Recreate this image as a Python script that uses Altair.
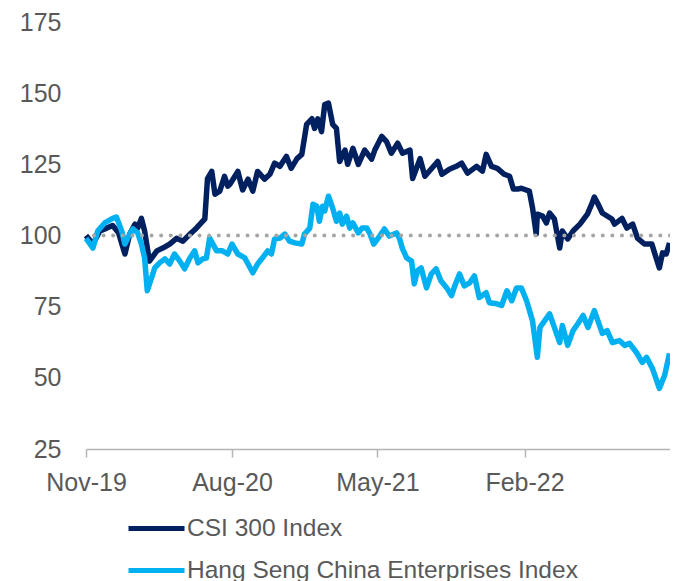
import altair as alt
import pandas as pd

csi_dates = [
    "2019-11-01", "2019-11-14", "2019-11-27", "2019-12-10", "2019-12-21", "2020-01-01",
    "2020-01-13", "2020-01-22", "2020-02-01", "2020-02-06", "2020-02-13", "2020-02-19",
    "2020-02-28", "2020-03-13", "2020-03-24", "2020-04-06", "2020-04-19", "2020-05-01",
    "2020-05-14", "2020-05-23", "2020-06-02", "2020-06-11", "2020-06-16", "2020-06-24",
    "2020-06-30", "2020-07-09", "2020-07-18", "2020-07-24", "2020-07-28", "2020-08-12",
    "2020-08-21", "2020-08-31", "2020-09-09", "2020-09-18", "2020-10-01", "2020-10-11",
    "2020-10-20", "2020-10-30", "2020-11-11", "2020-11-20", "2020-12-01", "2020-12-10",
    "2020-12-19", "2020-12-29", "2021-01-03", "2021-01-09", "2021-01-16", "2021-01-22",
    "2021-01-29", "2021-02-06", "2021-02-13", "2021-02-19", "2021-03-01", "2021-03-06",
    "2021-03-16", "2021-03-26", "2021-04-07", "2021-04-20", "2021-04-26", "2021-05-09",
    "2021-05-18", "2021-05-27", "2021-06-08", "2021-06-17", "2021-07-01", "2021-07-06",
    "2021-07-20", "2021-07-29", "2021-08-11", "2021-08-22", "2021-08-30", "2021-09-13",
    "2021-09-26", "2021-10-06", "2021-10-17", "2021-11-03", "2021-11-14", "2021-11-21",
    "2021-12-01", "2021-12-12", "2021-12-25", "2022-01-04", "2022-01-11", "2022-01-19",
    "2022-01-26", "2022-02-10", "2022-02-16", "2022-02-23", "2022-02-25", "2022-03-07",
    "2022-03-14", "2022-03-20", "2022-03-29", "2022-04-08", "2022-04-13", "2022-04-23",
    "2022-05-03", "2022-05-16", "2022-05-30", "2022-06-07", "2022-06-12", "2022-06-18",
    "2022-06-27", "2022-07-15", "2022-07-20", "2022-08-03", "2022-08-12", "2022-08-23",
    "2022-09-01", "2022-09-14", "2022-09-28", "2022-10-03", "2022-10-12", "2022-10-18",
    "2022-10-25", "2022-10-31",
]
csi_values = [
    100.0, 97.0, 101.6, 102.6, 103.5, 101.0,
    93.5, 100.5, 104.0, 102.6, 106.0, 101.6,
    91.0, 94.6, 95.6, 97.0, 99.0, 98.0,
    100.5, 102.0, 104.0, 105.8, 120.0, 122.5,
    114.5, 115.6, 120.8, 117.3, 118.0, 122.5,
    116.0, 119.8, 115.6, 122.5, 119.8, 121.5,
    125.4, 124.3, 127.8, 123.6, 127.0, 128.5,
    139.0, 141.0, 137.6, 141.0, 136.5, 146.0,
    146.5, 139.0, 137.6, 126.0, 130.0, 125.0,
    130.6, 125.0, 130.0, 126.8, 130.0, 134.8,
    133.0, 128.9, 132.4, 128.9, 130.0, 120.0,
    127.0, 120.8, 123.6, 126.0, 121.5, 123.3,
    124.3, 125.4, 121.9, 124.3, 122.6, 128.5,
    124.3, 123.6, 121.5, 120.8, 116.3, 116.3,
    116.6, 115.6, 109.7, 100.5, 107.5, 106.8,
    104.4, 107.9, 105.8, 95.6, 101.6, 98.8,
    101.6, 104.0, 107.5, 111.0, 113.5, 111.4,
    107.9, 105.8, 104.0, 106.0, 102.6, 104.0,
    99.1, 97.0, 97.0, 93.9, 88.6, 93.9,
    93.5, 97.4,
]

hs_dates = [
    "2019-11-01", "2019-11-14", "2019-11-23", "2019-12-06", "2019-12-21", "2019-12-28",
    "2020-01-07", "2020-01-13", "2020-01-22", "2020-01-28", "2020-02-06", "2020-02-13",
    "2020-02-19", "2020-02-24", "2020-03-03", "2020-03-09", "2020-03-18", "2020-03-28",
    "2020-04-06", "2020-04-15", "2020-04-25", "2020-05-04", "2020-05-14", "2020-05-23",
    "2020-05-29", "2020-06-07", "2020-06-14", "2020-06-20", "2020-06-25", "2020-07-03",
    "2020-07-14", "2020-07-24", "2020-08-01", "2020-08-12", "2020-08-25", "2020-09-09",
    "2020-09-18", "2020-09-27", "2020-10-07", "2020-10-14", "2020-10-20", "2020-10-30",
    "2020-11-08", "2020-11-17", "2020-11-27", "2020-12-10", "2020-12-15", "2020-12-25",
    "2020-12-31", "2021-01-07", "2021-01-12", "2021-01-18", "2021-01-22", "2021-01-29",
    "2021-02-06", "2021-02-13", "2021-02-19", "2021-02-24", "2021-03-04", "2021-03-10",
    "2021-03-16", "2021-03-26", "2021-04-02", "2021-04-11", "2021-04-17", "2021-04-24",
    "2021-05-05", "2021-05-14", "2021-05-23", "2021-06-06", "2021-06-11", "2021-06-17",
    "2021-06-25", "2021-07-04", "2021-07-09", "2021-07-15", "2021-07-22", "2021-08-01",
    "2021-08-10", "2021-08-19", "2021-08-28", "2021-09-08", "2021-09-17", "2021-09-23",
    "2021-10-02", "2021-10-11", "2021-10-21", "2021-10-30", "2021-11-08", "2021-11-21",
    "2021-11-27", "2021-12-11", "2021-12-20", "2021-12-30", "2022-01-08", "2022-01-17",
    "2022-01-26", "2022-02-05", "2022-02-16", "2022-02-25", "2022-03-02", "2022-03-20",
    "2022-03-29", "2022-04-08", "2022-04-13", "2022-04-23", "2022-05-03", "2022-05-12",
    "2022-05-22", "2022-05-31", "2022-06-12", "2022-06-27", "2022-07-06", "2022-07-16",
    "2022-07-29", "2022-08-08", "2022-08-17", "2022-08-30", "2022-09-10", "2022-09-18",
    "2022-09-29", "2022-10-12", "2022-10-22", "2022-10-31",
]
hs_values = [
    99.0, 95.6, 101.6, 104.4, 106.0, 106.5,
    101.6, 97.0, 100.5, 102.3, 100.9, 97.0,
    92.1, 80.6, 85.1, 88.6, 90.4, 91.8,
    90.0, 93.5, 91.0, 88.3, 92.1, 94.6,
    90.4, 91.8, 92.1, 99.1, 97.4, 94.6,
    94.6, 93.5, 97.0, 93.5, 92.1, 86.9,
    90.0, 92.1, 94.6, 93.5, 98.8, 99.1,
    100.5, 98.0, 97.4, 97.0, 100.5, 102.6,
    111.0, 110.3, 105.0, 110.3, 108.6, 113.8,
    109.6, 105.0, 107.9, 104.0, 106.8, 102.6,
    104.4, 100.9, 102.6, 102.6, 100.5, 97.0,
    99.8, 102.3, 99.8, 100.9, 99.1, 95.3,
    92.1, 91.0, 83.0, 87.6, 88.6, 81.6,
    86.5, 88.3, 84.1, 81.6, 78.9, 82.3,
    86.5, 82.3, 83.4, 85.8, 78.2, 79.9,
    76.4, 76.0, 75.4, 80.6, 77.1, 81.6,
    81.6, 77.0, 70.0, 57.2, 67.7, 72.5,
    67.7, 62.4, 68.4, 61.4, 66.6, 69.0,
    71.9, 67.7, 73.6, 65.6, 66.6, 62.4,
    63.1, 61.4, 62.1, 58.9, 55.4, 57.2,
    53.3, 46.3, 50.9, 58.6,
]

series_names = ["CSI 300 Index", "Hang Seng China Enterprises Index"]
series_colors = ["#002060", "#00B0F0"]
y_ticks = [25, 50, 75, 100, 125, 150, 175]
baseline = [100]

df = pd.concat([
    pd.DataFrame({"date": csi_dates, "value": csi_values, "series": series_names[0]}),
    pd.DataFrame({"date": hs_dates, "value": hs_values, "series": series_names[1]}),
])

font = "Liberation Sans"
text_color = "#595959"

x_enc = alt.X(
    "date:T",
    scale=alt.Scale(domain=[alt.DateTime(year=2019, month=11, date=1),
                            alt.DateTime(year=2022, month=11, date=1)]),
    axis=alt.Axis(
        title=None,
        values=[alt.DateTime(year=2019, month=11, date=1),
                alt.DateTime(year=2020, month=8, date=1),
                alt.DateTime(year=2021, month=5, date=1),
                alt.DateTime(year=2022, month=2, date=1)],
        format="%b-%y",
        grid=False,
        domainColor="#B4B4B4",
        domainWidth=1.5,
        tickColor="#B4B4B4",
        tickWidth=1.5,
        tickSize=8,
        labelFontSize=25,
        labelFont=font,
        labelColor=text_color,
        labelPadding=13,
        labelFlush=False,
    ),
)

lines = alt.Chart(df).mark_line(strokeWidth=5.5, strokeJoin="round").encode(
    x=x_enc,
    y=alt.Y(
        "value:Q",
        scale=alt.Scale(domain=[25, 175], nice=False, zero=False),
        axis=alt.Axis(
            title=None,
            values=y_ticks,
            grid=False,
            domain=False,
            ticks=False,
            labelFontSize=25,
            labelFont=font,
            labelColor=text_color,
            labelPadding=25,
        ),
    ),
    color=alt.Color(
        "series:N",
        scale=alt.Scale(domain=series_names, range=series_colors),
        legend=alt.Legend(
            title=None,
            orient="none",
            legendX=40,
            legendY=476,
            direction="vertical",
            symbolType="stroke",
            symbolSize=3136,
            symbolStrokeWidth=5,
            labelFontSize=24.5,
            labelFont=font,
            labelColor=text_color,
            labelOffset=0,
            rowPadding=-19,
            labelLimit=600,
        ),
    ),
)

ref = alt.Chart(pd.DataFrame({"y": baseline})).mark_rule(
    color="#A6A6A6", strokeWidth=4, strokeDash=[0.1, 9.5], strokeCap="round"
).encode(y="y:Q")

chart = alt.layer(lines, ref).properties(
    width=584,
    height=427,
    autosize=alt.AutoSizeParams(type="none"),
    padding={"left": 78, "top": 14, "right": 0, "bottom": 150},
).configure_view(stroke=None)

chart.save("out.html", embed_options={"renderer": "svg", "actions": False})
